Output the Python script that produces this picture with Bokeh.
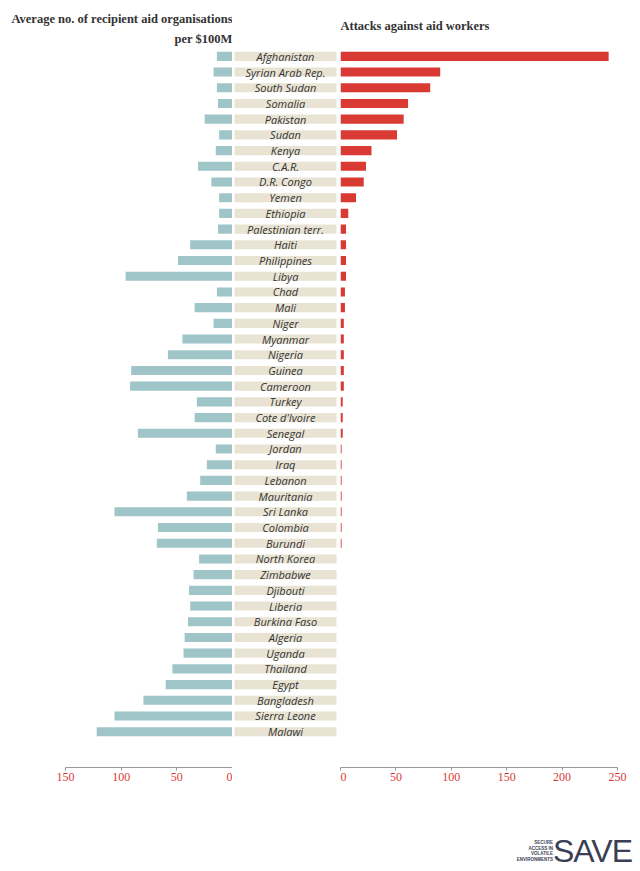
from bokeh.plotting import figure
from bokeh.layouts import row, column
from bokeh.models import Range1d, FixedTicker, Div, Title
from bokeh.embed import file_html
from bokeh.resources import INLINE
from bokeh.core.properties import value

countries = ["Afghanistan","Syrian Arab Rep.","South Sudan","Somalia","Pakistan","Sudan","Kenya","C.A.R.","D.R. Congo","Yemen","Ethiopia","Palestinian terr.","Haiti","Philippines","Libya","Chad","Mali","Niger","Myanmar","Nigeria","Guinea","Cameroon","Turkey","Cote d'Ivoire","Senegal","Jordan","Iraq","Lebanon","Mauritania","Sri Lanka","Colombia","Burundi","North Korea","Zimbabwe","Djibouti","Liberia","Burkina Faso","Algeria","Uganda","Thailand","Egypt","Bangladesh","Sierra Leone","Malawi"]
orgs = [14,17,14,13,25,12,15,31,19,12,12,13,38,49,96,14,34,17,45,58,91,92,32,34,85,15,23,29,41,106,67,68,30,35,39,38,40,43,44,54,60,80,106,122]
attacks = [242,90,81,61,57,51,28,23,21,14,7,5,5,5,5,4,4,3,3,3,3,3,2,2,2,1,1,1,1,1,1,1,0,0,0,0,0,0,0,0,0,0,0,0]
left_ticks = [150,100,50,0]
right_ticks = [0,50,100,150,200,250]

ys = list(range(len(countries)))
YR = lambda: Range1d(start=45.28, end=-0.5)
RED = "#d93a34"; BLUE = "#9fc5c8"; BEIGE = "#e8e3d3"
SERIF = "Liberation Serif"

def style_title(t, align, standoff):
    t.align = align
    t.text_font = SERIF
    t.text_font_size = "12.5px"
    t.text_color = "#333333"
    t.standoff = standoff
    t.offset = 0

def base(title="", align="left", standoff=5, **kw):
    p = figure(frame_height=719, min_border_top=48, min_border_bottom=40,
               y_range=YR(), output_backend="svg", toolbar_location=None,
               title=title, **kw)
    p.grid.visible = False
    p.outline_line_color = None
    p.yaxis.visible = False
    style_title(p.title, align, standoff)
    return p

def style_x(p, ticks):
    ax = p.xaxis[0]
    ax.ticker = FixedTicker(ticks=ticks)
    ax.axis_line_color = "#999999"
    ax.major_tick_line_color = "#999999"
    ax.major_tick_in = 0
    ax.major_tick_out = 3
    ax.minor_tick_line_color = None
    ax.major_label_text_color = RED
    ax.major_label_text_font = SERIF
    ax.major_label_text_font_size = "12px"
    ax.major_label_standoff = 2

left = base(title="Average no. of recipient aid organisations", align="right", standoff=1,
            frame_width=167, min_border_left=65, min_border_right=0,
            x_range=Range1d(150, 0))
t2 = Title(text="per $100M")
style_title(t2, "right", 6)
left.add_layout(t2, "above")
left.hbar(y=ys, left=0, right=orgs, height=0.58, fill_color=BLUE, line_color=None)
style_x(left, left_ticks)

mid = base(frame_width=108, min_border_left=0, min_border_right=0,
           x_range=Range1d(0, 108))
mid.xaxis.visible = False
mid.hbar(y=ys, left=2, right=104, height=0.58, fill_color=BEIGE, line_color=None)
mid.text(x=53, y=ys, text=countries, text_align="center", text_baseline="middle",
         text_font=value("Open Sans"), text_font_style="italic",
         text_font_size="11px", text_color="#333333")

right = base(title="Attacks against aid workers", align="left", standoff=32,
             frame_width=277, min_border_left=0, min_border_right=15,
             x_range=Range1d(0, 250))
right.hbar(y=ys, left=0, right=attacks, height=0.58, fill_color=RED, line_color=None)
style_x(right, right_ticks)

logo = Div(width=632, height=64, text=(
    '<div style="position:relative;width:632px;height:64px;font-family:Liberation Sans;color:#3a3f55">'
    '<div style="position:absolute;left:505px;top:28px;width:43px;text-align:right;font-size:4.5px;'
    'font-weight:bold;line-height:5.5px">SECURE<br>ACCESS IN<br>VOLATILE<br>ENVIRONMENTS</div>'
    '<div style="position:absolute;left:548px;top:25px;font-size:32px;line-height:28px;'
    'letter-spacing:-1px">SAVE</div></div>'))

layout = column(row(left, mid, right), logo)
open("out.html", "w").write(file_html(layout, INLINE))
